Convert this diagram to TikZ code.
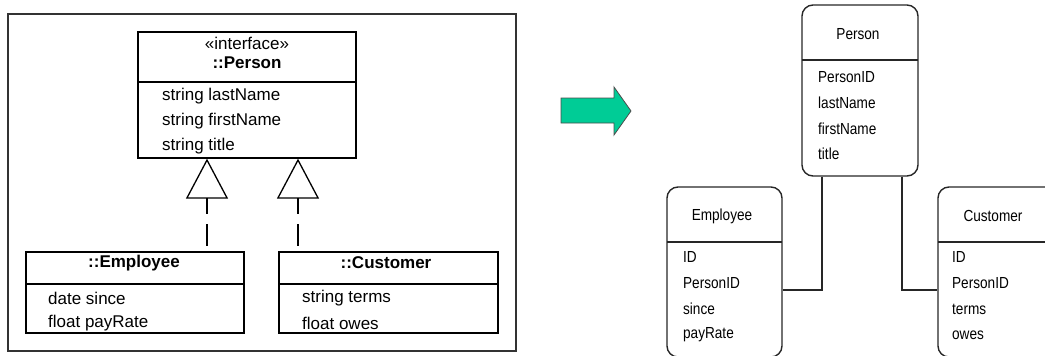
\documentclass[tikz,border=0pt]{standalone}
\usepackage{fontspec}
\setmainfont{Liberation Sans}
\usetikzlibrary{arrows.meta}
\definecolor{arrowgreen}{RGB}{0,204,150}
\tikzset{
  umlbox/.style={draw=black, line width=1.3pt, inner sep=0pt},
  umltxt/.style={anchor=west, inner sep=0pt, font=\fontsize{17}{20}\selectfont},
  umltitle/.style={inner sep=0pt, font=\fontsize{17}{20}\selectfont\bfseries},
  gen/.style={line width=1.3pt, dash pattern=on 16pt off 10pt on 22pt off 10pt,
              {Triangle[open, length=40pt, width=42pt, line width=1.3pt]}-},
  erbox/.style={draw=black!85, line width=1.4pt, rounded corners=11pt, inner sep=0pt},
  ertxt/.style={anchor=west, inner sep=0pt, font=\fontsize{16}{19}\selectfont, xscale=0.85},
  ertitle/.style={inner sep=0pt, font=\fontsize{16}{19}\selectfont, xscale=0.85},
  erline/.style={draw=black!85, line width=1.4pt}
}
\begin{document}
\begin{tikzpicture}[x=1pt,y=-1pt]
\useasboundingbox (0,0) rectangle (1045,356);
\clip (0,0) rectangle (1045,356);
% outer frame
\node[draw=black!80, line width=1.4pt, minimum width=508pt, minimum height=337pt, inner sep=0pt] (frame) at (262,182.5) {};
% Person interface
\node[umlbox, minimum width=218pt, minimum height=126pt] (person) at (247,95) {};
\draw[umlbox] (138,82) -- (356,82);
\node[inner sep=0pt, font=\fontsize{17}{20}\selectfont] (stereo) at (247,43) {«interface»};
\node[umltitle] (ptitle) at (247,63) {::Person};
\node[umltxt] (p1) at (162,96) {string lastName};
\node[umltxt] (p2) at (162,121) {string firstName};
\node[umltxt] (p3) at (162,146) {string title};
% Employee
\node[umlbox, minimum width=218pt, minimum height=81pt] (emp) at (135,292.5) {};
\draw[umlbox] (26,284) -- (244,284);
\node[umltitle] (etitle) at (134,263) {::Employee};
\node[umltxt] (e1) at (48,298) {date since};
\node[umltxt] (e2) at (48,323) {float payRate};
% Customer
\node[umlbox, minimum width=219pt, minimum height=81pt] (cust) at (388.5,292.5) {};
\draw[umlbox] (279,284) -- (498,284);
\node[umltitle] (ctitle) at (386,263) {::Customer};
\node[umltxt] (c1) at (302,298) {string terms};
\node[umltxt] (c2) at (302,323) {float owes};
% generalizations
\draw[gen] (person.south -| 207,0) -- (emp.north -| 207,0);
\draw[gen] (person.south -| 298,0) -- (cust.north -| 298,0);
% big arrow
\filldraw[fill=arrowgreen, draw=black!70, line width=0.8pt]
  (561,98) -- (614,98) -- (614,87) -- (631,111) -- (614,135) -- (614,123) -- (561,123) -- cycle;
% ER Person
\node[erbox, minimum width=116pt, minimum height=171pt] (eperson) at (860,90.5) {};
\draw[erline] (802,60) -- (918,60);
\node[ertitle] (eptitle) at (858,34) {Person};
\node[ertxt] (ep1) at (818,77) {PersonID};
\node[ertxt] (ep2) at (818,103) {lastName};
\node[ertxt] (ep3) at (818,129) {firstName};
\node[ertxt] (ep4) at (818,154) {title};
% ER Employee
\node[erbox, minimum width=115pt, minimum height=170pt] (eemp) at (724.5,272) {};
\draw[erline] (667,242) -- (782,242);
\node[ertitle] (eetitle) at (722,216) {Employee};
\node[ertxt] (ee1) at (683,257) {ID};
\node[ertxt] (ee2) at (683,283) {PersonID};
\node[ertxt] (ee3) at (683,309) {since};
\node[ertxt] (ee4) at (683,335) {payRate};
% ER Customer
\node[erbox, minimum width=120pt, minimum height=170pt] (ecust) at (998,272) {};
\draw[erline] (938,242) -- (1058,242);
\node[ertitle] (ectitle) at (993,216) {Customer};
\node[ertxt] (ec1) at (952,257) {ID};
\node[ertxt] (ec2) at (952,283) {PersonID};
\node[ertxt] (ec3) at (952,309) {terms};
\node[ertxt] (ec4) at (952,335) {owes};
% ER connectors
\draw[erline] (eperson.south -| 822,0) |- (eemp.east |- 0,290);
\draw[erline] (eperson.south -| 902,0) |- (ecust.west |- 0,290);
\end{tikzpicture}
\end{document}
